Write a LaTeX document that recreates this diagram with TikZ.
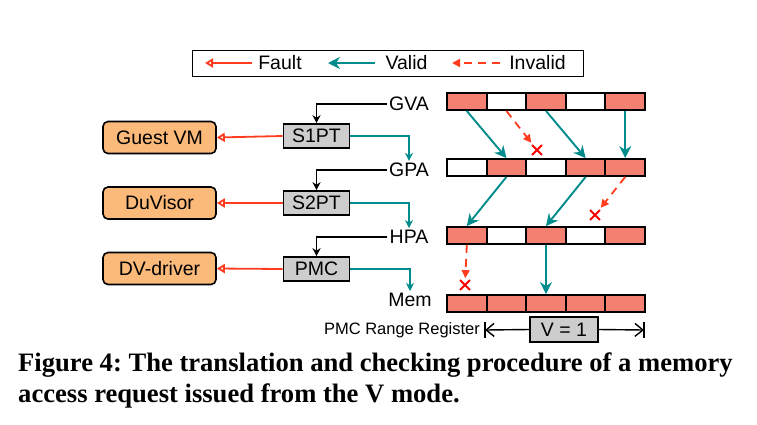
\documentclass[tikz,border=0pt]{standalone}
\usepackage{fontspec}
\setmainfont{Liberation Sans}
\newfontfamily\capfont{Liberation Serif}
\usetikzlibrary{arrows.meta,shapes.misc}

\definecolor{cellred}{RGB}{244,128,114}
\definecolor{validteal}{RGB}{0,140,140}
\definecolor{faultred}{RGB}{255,60,30}
\definecolor{ownerorange}{RGB}{251,186,122}
\definecolor{tablegray}{RGB}{205,205,205}

\tikzset{
	cell/.style={draw, line width=1.9pt, minimum width=39.6pt, minimum height=17pt, inner sep=0pt},
	ptable/.style={draw, line width=1.6pt, fill=tablegray, minimum width=66pt, minimum height=24pt, inner sep=0pt, font=\fontsize{19.5}{20}\selectfont},
	owner/.style={draw, line width=1.6pt, rounded corners=5pt, fill=ownerorange, minimum width=113pt, minimum height=32pt, inner sep=0pt, font=\fontsize{19.5}{20}\selectfont},
	addr/.style={inner sep=2pt, font=\fontsize{19.5}{20}\selectfont},
	valid/.style={validteal, line width=1.9pt, -{Stealth[length=12pt, width=12pt, inset=4pt]}},
	hop/.style={validteal, line width=1.7pt, -{Stealth[length=8pt, width=8pt, inset=2.5pt]}},
	req/.style={black, line width=1.6pt, -{Stealth[length=8pt, width=8pt, inset=2.5pt]}},
	fault/.style={faultred, line width=1.8pt, -{Triangle[length=8pt, width=9pt, fill=white]}},
	invalid/.style={faultred, line width=1.8pt, dash pattern=on 8pt off 6pt, -{Triangle[length=8pt, width=8pt]}},
	bad/.style={cross out, draw=red, line width=1.8pt, minimum size=8pt, inner sep=0pt},
	spanarrow/.style={black, line width=1.4pt, -{Straight Barb[length=8pt, width=13pt]}}
}

\begin{document}
\frenchspacing
\begin{tikzpicture}[x=1pt, y=-1pt]
	\useasboundingbox (0,0) rectangle (757,424);

	% legend
	\node[draw, line width=1pt, minimum width=391pt, minimum height=26pt] (legend) at (387.5,63) {};
	\node[addr] (lfault) at (280,63) {Fault};
	\node[addr] (lvalid) at (406.5,63) {Valid};
	\node[addr] (linvalid) at (537.5,63) {Invalid};
	\coordinate (lf1) at (252,63);
	\coordinate (lf2) at (205,63);
	\coordinate (lv1) at (375,63);
	\coordinate (lv2) at (328,63);
	\coordinate (li1) at (500,63);
	\coordinate (li2) at (452,63);
	\draw[fault] (lf1) -- (lf2);
	\draw[valid] (lv1) -- (lv2);
	\draw[invalid] (li1) -- (li2);

	% address rows
	\foreach \f [count=\i] in {cellred,white,cellred,white,cellred}
		\node[cell, fill=\f] (gva\i) at ({427.2+39.6*\i}, 101.5) {};
	\foreach \f [count=\i] in {white,cellred,white,cellred,cellred}
		\node[cell, fill=\f] (gpa\i) at ({427.2+39.6*\i}, 167.5) {};
	\foreach \f [count=\i] in {cellred,white,cellred,white,cellred}
		\node[cell, fill=\f] (hpa\i) at ({427.2+39.6*\i}, 235.5) {};
	\foreach \f [count=\i] in {cellred,cellred,cellred,cellred,cellred}
		\node[cell, fill=\f] (mem\i) at ({427.2+39.6*\i}, 303.5) {};

	\node[addr] (gva) at (409,104) {GVA};
	\node[addr] (gpa) at (409,170) {GPA};
	\node[addr] (hpa) at (409,237) {HPA};
	\node[addr] (mem) at (410,300) {Mem};

	% page tables and owners
	\node[ptable] (s1pt) at (316.5,136) {S1PT};
	\node[ptable] (s2pt) at (316.5,203) {S2PT};
	\node[ptable] (pmc) at (316.5,269) {PMC};
	\node[owner] (guest) at (159.5,137.5) {Guest VM};
	\node[owner] (duvisor) at (159.5,203) {DuVisor};
	\node[owner] (dvdriver) at (159.5,268.5) {DV-driver};

	\draw[req] (gva.west) -| (s1pt.north);
	\draw[req] (gpa.west) -| (s2pt.north);
	\draw[req] (hpa.west) -| (pmc.north);
	\draw[hop] (s1pt.east) -| (gpa.north);
	\draw[hop] (s2pt.east) -| (hpa.north);
	\draw[hop] (pmc.east) -| (mem.north);
	\draw[fault] (s1pt.west) -- (guest.east);
	\draw[fault] (s2pt.west) -- (duvisor.east);
	\draw[fault] (pmc.west) -- (dvdriver.east);

	% translations
	\draw[valid] (gva1.south) -- (gpa2.north);
	\draw[valid] (gva3.south) -- (gpa4.north);
	\draw[valid] (gva5.south) -- (gpa5.north);
	\draw[valid] (gpa2.south) -- (hpa1.north);
	\draw[valid] (gpa4.south) -- (hpa3.north);
	\draw[valid] (hpa3.south) -- (mem3.north);

	\node[bad] (bad1) at (537,150) {};
	\node[bad] (bad2) at (595,215) {};
	\node[bad] (bad3) at (465,285) {};
	\draw[invalid, shorten >=3pt] (gva2.south) -- (bad1);
	\draw[invalid, shorten >=3pt] (gpa5.south) -- (bad2);
	\draw[invalid, shorten >=2pt] (hpa1.south) -- (bad3);

	% range register
	\node[addr, font=\fontsize{16.5}{17}\selectfont] (pmcrr) at (402,330) {PMC Range Register};
	\node[ptable, line width=1.4pt, minimum width=68pt, minimum height=25pt] (vbit) at (564,329.5) {V = 1};
	\coordinate (rl) at (485,330);
	\coordinate (rr) at (644,330);
	\draw[line width=1.4pt] ([yshift=8pt]rl) -- ([yshift=-8pt]rl);
	\draw[line width=1.4pt] ([yshift=8pt]rr) -- ([yshift=-8pt]rr);
	\draw[spanarrow] (vbit.west) -- (rl);
	\draw[spanarrow] (vbit.east) -- (rr);

	% caption
	\node[anchor=base west, inner sep=0pt, font=\capfont\bfseries\fontsize{26.6}{31}\selectfont] (cap1) at (18,371) {Figure 4: The translation and checking procedure of a memory};
	\node[anchor=base west, inner sep=0pt, font=\capfont\bfseries\fontsize{26.6}{31}\selectfont] (cap2) at (18,402) {access request issued from the V mode.};
\end{tikzpicture}
\end{document}
